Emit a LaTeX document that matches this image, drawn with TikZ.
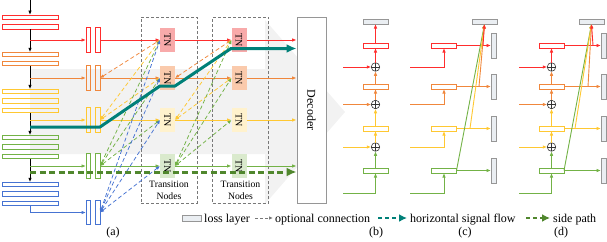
\documentclass[tikz,border=0pt]{standalone}
\usepackage{fontspec}
\setmainfont{Liberation Serif}
\usetikzlibrary{arrows.meta}
\definecolor{colR}{RGB}{255,45,45}
\definecolor{colO}{RGB}{240,135,60}
\definecolor{colY}{RGB}{255,200,50}
\definecolor{colG}{RGB}{115,178,70}
\definecolor{colB}{RGB}{70,115,210}
\definecolor{colT}{RGB}{0,128,120}
\definecolor{colS}{RGB}{80,135,45}
\definecolor{tR}{RGB}{248,170,170}
\definecolor{tO}{RGB}{250,202,172}
\definecolor{tY}{RGB}{255,242,205}
\definecolor{tG}{RGB}{218,234,205}
\definecolor{lossF}{RGB}{234,238,242}
\definecolor{lossD}{RGB}{150,150,150}
\definecolor{bgc}{RGB}{242,242,242}
\definecolor{boxD}{RGB}{120,120,120}
\begin{document}
\begin{tikzpicture}[x=1pt,y=-1pt,
  arr/.style={-{Latex[length=4.5pt,width=3.6pt]}, line width=0.9pt},
  opt/.style={{Latex[length=4pt,width=3.4pt]}-{Latex[length=4pt,width=3.4pt]}, line width=0.75pt, dash pattern=on 4pt off 2.5pt},
  hb/.style={draw=#1, line width=0.9pt, minimum width=56pt, minimum height=4.5pt, inner sep=0pt, outer sep=0pt},
  vb/.style={draw=#1, line width=0.9pt, minimum width=4.5pt, minimum height=24.5pt, inner sep=0pt, outer sep=0pt},
  tn/.style={fill=#1, minimum width=15pt, minimum height=24pt, inner sep=0pt, outer sep=0pt, font=\fontsize{10}{10}\selectfont},
  sb/.style={draw=#1, fill=white, line width=0.9pt, minimum width=25pt, minimum height=5pt, inner sep=0pt, outer sep=0pt},
  loss/.style={draw=lossD, fill=lossF, line width=0.8pt, minimum width=25pt, minimum height=5pt, inner sep=0pt, outer sep=0pt},
  vloss/.style={draw=lossD, fill=lossF, line width=0.8pt, minimum width=5pt, minimum height=25pt, inner sep=0pt, outer sep=0pt},
  op/.style={circle, draw=black!80, line width=0.6pt, minimum size=8.5pt, inner sep=0pt, outer sep=0pt, fill=white,
    path picture={\draw[line width=0.6pt, black!80] (path picture bounding box.north) -- (path picture bounding box.south) (path picture bounding box.west) -- (path picture bounding box.east);}},
  trbox/.style={draw=boxD, dash pattern=on 3pt off 2pt, line width=0.7pt, minimum width=56pt, minimum height=186pt, inner sep=0pt},
  lbl/.style={font=\fontsize{12}{14}\selectfont, inner sep=0pt},
  big/.style={line width=3pt, -{Latex[length=10pt,width=9pt]}},
]
\useasboundingbox (0,0) rectangle (607,241);
% background arrow
\fill[bgc] (30,69) -- (265,69) -- (265,20) -- (345,112) -- (265,204) -- (265,154) -- (30,154) -- cycle;

% ===== panel (a) =====
% encoder bars
\node[hb=colR] (r1) at (30,17.25) {};
\node[hb=colR] (r2) at (30,26.75) {};
\node[hb=colO] (o1) at (30,54.5) {};
\node[hb=colO] (o2) at (30,63.5) {};
\node[hb=colY] (y1) at (30,91.5) {};
\node[hb=colY] (y2) at (30,100.75) {};
\node[hb=colY] (y3) at (30,110.25) {};
\node[hb=colG] (g1) at (30,137.5) {};
\node[hb=colG] (g2) at (30,146.75) {};
\node[hb=colG] (g3) at (30,156.25) {};
\node[hb=colB] (b1) at (30,184.5) {};
\node[hb=colB] (b2) at (30,193.75) {};
\node[hb=colB] (b3) at (30,203.25) {};
\coordinate (top) at (30,0);
\draw[arr,black] (top) -- (r1.north);
\draw[arr,black] (r2.south) -- (o1.north);
\draw[arr,black] (o2.south) -- (y1.north);
\draw[arr,black] (y3.south) -- (g1.north);
\draw[arr,black] (g3.south) -- (b1.north);

% transition boxes and decoder
\node[trbox] (box1) at (169,110) {};
\node[trbox] (box2) at (240.5,110) {};
\node[align=center, font=\fontsize{9.7}{12}\selectfont, inner sep=0pt] (tl1) at (169,190.5) {Transition\\Nodes};
\node[align=center, font=\fontsize{9.7}{12}\selectfont, inner sep=0pt] (tl2) at (240.5,190.5) {Transition\\Nodes};
\node[draw=lossD, fill=white, line width=0.9pt, minimum width=29pt, minimum height=186pt, inner sep=0pt, font=\fontsize{12}{12}\selectfont] (dec) at (311.5,110) {\rotatebox{-90}{Decoder}};

% double bars, TN nodes, solid arrows
\foreach \n/\y/\c in {R/40/colR, O/78/colO, Y/120/colY, G/166/colG, B/212.5/colB}{
  \node[vb=\c] (dba\n) at (88.25,\y) {};
  \node[vb=\c] (dbb\n) at (97.75,\y) {};
}
\foreach \n/\y/\c/\f in {R/40/colR/tR, O/78/colO/tO, Y/120/colY/tY, G/166/colG/tG}{
  \node[tn=\f] (ta\n) at (167.5,\y) {\rotatebox{-90}{TN}};
  \node[tn=\f] (tb\n) at (239,\y) {\rotatebox{-90}{TN}};
  \coordinate (br\n) at (30,\y);
  \draw[arr,\c] (br\n) -- (dba\n.west);
  \draw[arr,\c] (dbb\n.east) -- (ta\n.west);
  \draw[arr,\c] (ta\n.east) -- (tb\n.west);
  \draw[arr,\c] (tb\n.east) -- (tb\n.east -| dec.west);
}
\draw[arr,colB] (b3.south) |- (dbaB.west);

% optional connections
\foreach \s/\t/\c in {O/R/colO, Y/R/colY, Y/O/colY, G/R/colG, G/O/colG, G/Y/colG, B/R/colB, B/O/colB, B/Y/colB, B/G/colB}{
  \draw[opt,\c] (dbb\s.east) -- (ta\t.west);
}
\foreach \s/\t/\c in {O/R/colO, Y/R/colY, Y/O/colY, G/R/colG, G/O/colG, G/Y/colG}{
  \draw[opt,\c] (ta\s.east) -- (tb\t.west);
}

% horizontal signal flow and side path
\coordinate (t0) at (30,127);
\coordinate (t1) at (100,127);
\coordinate (t2) at (160,86);
\coordinate (t3) at (175,86);
\coordinate (t4) at (231,48.5);
\draw[big, colT, line join=round] (t0) -- (t1) -- (t2) -- (t3) -- (t4) -- (t4 -| dec.west);
\coordinate (s0) at (30,172);
\draw[big, colS, dash pattern=on 6pt off 3.5pt] (s0) -- (s0 -| dec.west);

% ===== panel (b) =====
\node[loss] (bL) at (375.5,21.5) {};
\node[sb=colR] (bR) at (375.5,45.5) {};
\node[sb=colO] (bO) at (375.5,86.5) {};
\node[sb=colY] (bY) at (375.5,128.5) {};
\node[sb=colG] (bG) at (375.5,170.5) {};
\node[op] (bp1) at (375.5,67) {};
\node[op] (bp2) at (375.5,104.5) {};
\node[op] (bp3) at (375.5,147) {};
\coordinate (bi1) at (343,67);
\coordinate (bi2) at (343,104.5);
\coordinate (bi3) at (343,147);
\coordinate (bi4) at (343,193);
\draw[arr,colR] (bR.north) -- (bL.south);
\draw[arr,colR] (bp1.north) -- (bR.south);
\draw[arr,colO] (bO.north) -- (bp1.south);
\draw[arr,colO] (bp2.north) -- (bO.south);
\draw[arr,colY] (bY.north) -- (bp2.south);
\draw[arr,colY] (bp3.north) -- (bY.south);
\draw[arr,colG] (bG.north) -- (bp3.south);
\draw[arr,colR] (bi1) -- (bp1.west);
\draw[arr,colO] (bi2) -- (bp2.west);
\draw[arr,colY] (bi3) -- (bp3.west);
\draw[arr,colG] (bi4) -| (bG.south);

% ===== panel (c) =====
\node[loss] (cL) at (484.5,21.5) {};
\node[sb=colR] (cR) at (444,45.5) {};
\node[sb=colO] (cO) at (444,86.5) {};
\node[sb=colY] (cY) at (444,128.5) {};
\node[sb=colG] (cG) at (444,170.5) {};
\node[vloss] (cV1) at (493.5,45.5) {};
\node[vloss] (cV2) at (493.5,86.5) {};
\node[vloss] (cV3) at (493.5,128.5) {};
\node[vloss] (cV4) at (493.5,170.5) {};
\coordinate (ci1) at (410,67);
\coordinate (ci2) at (410,104.5);
\coordinate (ci3) at (410,147);
\coordinate (ci4) at (410,193);
\draw[arr,colR] (ci1) -| (cR.south);
\draw[arr,colO] (ci2) -| (cO.south);
\draw[arr,colY] (ci3) -| (cY.south);
\draw[arr,colG] (ci4) -| (cG.south);
\draw[arr,colR] (cR.east) -- (cV1.west);
\draw[arr,colO] (cO.east) -- (cV2.west);
\draw[arr,colY] (cY.east) -- (cV3.west);
\draw[arr,colG] (cG.east) -- (cV4.west);
\coordinate (cu1) at (483,45.5);
\coordinate (cu2) at (479,86.5);
\coordinate (cu3) at (470,128.5);
\draw[arr,colG] (cG.east) -- (cL.south);
\draw[arr,colY] (cu3) -- (cL.south);
\draw[arr,colO] (cu2) -- (cL.south);
\draw[arr,colR] (cu1) -- (cL.south);

% ===== panel (d) =====
\node[loss] (dL) at (591.5,21.5) {};
\node[sb=colR] (dR) at (551.5,45.5) {};
\node[sb=colO] (dO) at (551.5,86.5) {};
\node[sb=colY] (dY) at (551.5,128.5) {};
\node[sb=colG] (dG) at (551.5,170.5) {};
\node[op] (dp1) at (551.5,67) {};
\node[op] (dp2) at (551.5,104.5) {};
\node[op] (dp3) at (551.5,147) {};
\node[vloss] (dV1) at (603.5,45.5) {};
\node[vloss] (dV2) at (603.5,86.5) {};
\node[vloss] (dV3) at (603.5,128.5) {};
\node[vloss] (dV4) at (603.5,170.5) {};
\coordinate (di1) at (519,67);
\coordinate (di2) at (519,104.5);
\coordinate (di3) at (519,147);
\coordinate (di4) at (519,193);
\draw[arr,colR] (dp1.north) -- (dR.south);
\draw[arr,colO] (dO.north) -- (dp1.south);
\draw[arr,colO] (dp2.north) -- (dO.south);
\draw[arr,colY] (dY.north) -- (dp2.south);
\draw[arr,colY] (dp3.north) -- (dY.south);
\draw[arr,colG] (dG.north) -- (dp3.south);
\draw[arr,colR] (di1) -- (dp1.west);
\draw[arr,colO] (di2) -- (dp2.west);
\draw[arr,colY] (di3) -- (dp3.west);
\draw[arr,colG] (di4) -| (dG.south);
\draw[arr,colR] (dR.east) -- (dV1.west);
\draw[arr,colO] (dO.east) -- (dV2.west);
\draw[arr,colY] (dY.east) -- (dV3.west);
\draw[arr,colG] (dG.east) -- (dV4.west);
\coordinate (du1) at (593,45.5);
\coordinate (du2) at (588,86.5);
\coordinate (du3) at (575,128.5);
\draw[arr,colG] (dG.east) -- (dL.south);
\draw[arr,colY] (du3) -- (dL.south);
\draw[arr,colO] (du2) -- (dL.south);
\draw[arr,colR] (du1) -- (dL.south);

% ===== legend =====
\node[loss, minimum width=19pt, minimum height=6pt] (lg1) at (191.5,218) {};
\node[lbl, anchor=base west] (lt1) at (204,222) {loss layer};
\coordinate (la1) at (255,218);
\coordinate (la2) at (273,218);
\draw[-{Latex[length=4pt,width=3.5pt]}, boxD, line width=0.8pt, dash pattern=on 3pt off 2pt] (la1) -- (la2);
\node[lbl, anchor=base west] (lt2) at (275,222) {optional connection};
\coordinate (lb1) at (378,218);
\coordinate (lb2) at (407,218);
\draw[colT, line width=2.2pt, dash pattern=on 4pt off 3pt, -{Latex[length=8pt,width=8pt]}] (lb1) -- (lb2);
\node[lbl, anchor=base west] (lt3) at (410,222) {horizontal signal flow};
\coordinate (lc1) at (526,218);
\coordinate (lc2) at (550,218);
\draw[colS, line width=2.2pt, dash pattern=on 4pt off 3pt, -{Latex[length=8pt,width=8pt]}] (lc1) -- (lc2);
\node[lbl, anchor=base west] (lt4) at (553,222) {side path};

% panel labels
\node[lbl] (la) at (113,233) {(a)};
\node[lbl] (lb) at (376,233) {(b)};
\node[lbl] (lc) at (465,233) {(c)};
\node[lbl] (ld) at (561,233) {(d)};
\end{tikzpicture}
\end{document}
